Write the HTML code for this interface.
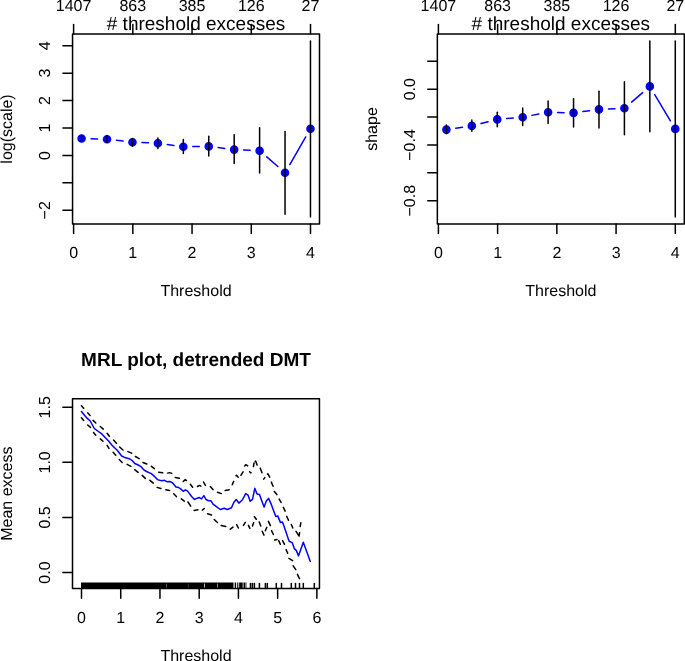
<!DOCTYPE html>
<html><head><meta charset="utf-8"><style>
html,body{margin:0;padding:0;background:#fff;}
svg{display:block;will-change:transform;}
text{font-family:"Liberation Sans",sans-serif;fill:#000;text-rendering:geometricPrecision;}
</style></head><body>
<svg width="685" height="661" viewBox="0 0 685 661">
<rect width="685" height="661" fill="#fff"/>
<rect x="72.55" y="34" width="246.95" height="190" fill="none" stroke="#000" stroke-width="1.5" stroke-linejoin="round"/>
<line x1="73.6" y1="224" x2="73.6" y2="233.6" stroke="#000" stroke-width="1.5" stroke-linecap="round" />
<text x="73.6" y="258.2" font-size="16" text-anchor="middle">0</text>
<line x1="132.82" y1="224" x2="132.82" y2="233.6" stroke="#000" stroke-width="1.5" stroke-linecap="round" />
<text x="132.82" y="258.2" font-size="16" text-anchor="middle">1</text>
<line x1="192.05" y1="224" x2="192.05" y2="233.6" stroke="#000" stroke-width="1.5" stroke-linecap="round" />
<text x="192.05" y="258.2" font-size="16" text-anchor="middle">2</text>
<line x1="251.28" y1="224" x2="251.28" y2="233.6" stroke="#000" stroke-width="1.5" stroke-linecap="round" />
<text x="251.28" y="258.2" font-size="16" text-anchor="middle">3</text>
<line x1="310.5" y1="224" x2="310.5" y2="233.6" stroke="#000" stroke-width="1.5" stroke-linecap="round" />
<text x="310.5" y="258.2" font-size="16" text-anchor="middle">4</text>
<line x1="73.6" y1="34" x2="73.6" y2="24.4" stroke="#000" stroke-width="1.5" stroke-linecap="round" />
<text x="73.6" y="11.2" font-size="16" text-anchor="middle">1407</text>
<line x1="132.82" y1="34" x2="132.82" y2="24.4" stroke="#000" stroke-width="1.5" stroke-linecap="round" />
<text x="132.82" y="11.2" font-size="16" text-anchor="middle">863</text>
<line x1="192.05" y1="34" x2="192.05" y2="24.4" stroke="#000" stroke-width="1.5" stroke-linecap="round" />
<text x="192.05" y="11.2" font-size="16" text-anchor="middle">385</text>
<line x1="251.28" y1="34" x2="251.28" y2="24.4" stroke="#000" stroke-width="1.5" stroke-linecap="round" />
<text x="251.28" y="11.2" font-size="16" text-anchor="middle">126</text>
<line x1="310.5" y1="34" x2="310.5" y2="24.4" stroke="#000" stroke-width="1.5" stroke-linecap="round" />
<text x="310.5" y="11.2" font-size="16" text-anchor="middle">27</text>
<line x1="72.55" y1="210.3" x2="62.95" y2="210.3" stroke="#000" stroke-width="1.5" stroke-linecap="round" />
<text x="49.75" y="210.3" font-size="16" text-anchor="middle" transform="rotate(-90 49.75 210.3)">&#8722;2</text>
<line x1="72.55" y1="182.87" x2="62.95" y2="182.87" stroke="#000" stroke-width="1.5" stroke-linecap="round" />
<line x1="72.55" y1="155.44" x2="62.95" y2="155.44" stroke="#000" stroke-width="1.5" stroke-linecap="round" />
<text x="49.75" y="155.44" font-size="16" text-anchor="middle" transform="rotate(-90 49.75 155.44)">0</text>
<line x1="72.55" y1="128.01" x2="62.95" y2="128.01" stroke="#000" stroke-width="1.5" stroke-linecap="round" />
<text x="49.75" y="128.01" font-size="16" text-anchor="middle" transform="rotate(-90 49.75 128.01)">1</text>
<line x1="72.55" y1="100.58" x2="62.95" y2="100.58" stroke="#000" stroke-width="1.5" stroke-linecap="round" />
<text x="49.75" y="100.58" font-size="16" text-anchor="middle" transform="rotate(-90 49.75 100.58)">2</text>
<line x1="72.55" y1="73.15" x2="62.95" y2="73.15" stroke="#000" stroke-width="1.5" stroke-linecap="round" />
<text x="49.75" y="73.15" font-size="16" text-anchor="middle" transform="rotate(-90 49.75 73.15)">3</text>
<line x1="72.55" y1="45.72" x2="62.95" y2="45.72" stroke="#000" stroke-width="1.5" stroke-linecap="round" />
<text x="49.75" y="45.72" font-size="16" text-anchor="middle" transform="rotate(-90 49.75 45.72)">4</text>
<text x="196.03" y="30.2" font-size="19.0" text-anchor="middle"># threshold excesses</text>
<text x="196.03" y="296.2" font-size="16" text-anchor="middle">Threshold</text>
<text x="11.75" y="129" font-size="16" text-anchor="middle" transform="rotate(-90 11.75 129)">log(scale)</text>
<line x1="91.07" y1="138.76" x2="97.56" y2="138.94" stroke="#0000ff" stroke-width="1.5" stroke-linecap="round" />
<line x1="116.43" y1="140.31" x2="123.06" y2="141.09" stroke="#0000ff" stroke-width="1.5" stroke-linecap="round" />
<line x1="141.92" y1="142.57" x2="148.43" y2="142.83" stroke="#0000ff" stroke-width="1.5" stroke-linecap="round" />
<line x1="167.27" y1="144.49" x2="173.94" y2="145.41" stroke="#0000ff" stroke-width="1.5" stroke-linecap="round" />
<line x1="192.79" y1="146.59" x2="199.28" y2="146.51" stroke="#0000ff" stroke-width="1.5" stroke-linecap="round" />
<line x1="218.15" y1="147.58" x2="224.78" y2="148.42" stroke="#0000ff" stroke-width="1.5" stroke-linecap="round" />
<line x1="243.64" y1="150.01" x2="250.15" y2="150.29" stroke="#0000ff" stroke-width="1.5" stroke-linecap="round" />
<line x1="266.77" y1="156.9" x2="277.88" y2="166.5" stroke="#0000ff" stroke-width="1.5" stroke-linecap="round" />
<line x1="289.79" y1="164.51" x2="305.72" y2="136.99" stroke="#0000ff" stroke-width="1.5" stroke-linecap="round" />
<circle cx="81.6" cy="138.5" r="3.55" fill="#0000ff" stroke="#0000ff" stroke-width="1.5"/>
<circle cx="107.03" cy="139.2" r="3.55" fill="#0000ff" stroke="#0000ff" stroke-width="1.5"/>
<circle cx="132.46" cy="142.2" r="3.55" fill="#0000ff" stroke="#0000ff" stroke-width="1.5"/>
<circle cx="157.89" cy="143.2" r="3.55" fill="#0000ff" stroke="#0000ff" stroke-width="1.5"/>
<circle cx="183.32" cy="146.7" r="3.55" fill="#0000ff" stroke="#0000ff" stroke-width="1.5"/>
<circle cx="208.75" cy="146.4" r="3.55" fill="#0000ff" stroke="#0000ff" stroke-width="1.5"/>
<circle cx="234.18" cy="149.6" r="3.55" fill="#0000ff" stroke="#0000ff" stroke-width="1.5"/>
<circle cx="259.61" cy="150.7" r="3.55" fill="#0000ff" stroke="#0000ff" stroke-width="1.5"/>
<circle cx="285.04" cy="172.7" r="3.55" fill="#0000ff" stroke="#0000ff" stroke-width="1.5"/>
<circle cx="310.47" cy="128.8" r="3.55" fill="#0000ff" stroke="#0000ff" stroke-width="1.5"/>
<line x1="81.6" y1="135.8" x2="81.6" y2="140.8" stroke="#000" stroke-width="1.5" stroke-linecap="round" />
<line x1="107.03" y1="135.5" x2="107.03" y2="142.5" stroke="#000" stroke-width="1.5" stroke-linecap="round" />
<line x1="132.46" y1="138.4" x2="132.46" y2="146.2" stroke="#000" stroke-width="1.5" stroke-linecap="round" />
<line x1="157.89" y1="138.1" x2="157.89" y2="148.4" stroke="#000" stroke-width="1.5" stroke-linecap="round" />
<line x1="183.32" y1="139.4" x2="183.32" y2="153.6" stroke="#000" stroke-width="1.5" stroke-linecap="round" />
<line x1="208.75" y1="136.2" x2="208.75" y2="156.1" stroke="#000" stroke-width="1.5" stroke-linecap="round" />
<line x1="234.18" y1="134.7" x2="234.18" y2="163.6" stroke="#000" stroke-width="1.5" stroke-linecap="round" />
<line x1="259.61" y1="127.8" x2="259.61" y2="173" stroke="#000" stroke-width="1.5" stroke-linecap="round" />
<line x1="285.04" y1="131.4" x2="285.04" y2="214.2" stroke="#000" stroke-width="1.5" stroke-linecap="round" />
<line x1="310.47" y1="40.9" x2="310.47" y2="217" stroke="#000" stroke-width="1.5" stroke-linecap="round" />
<rect x="437.35" y="34" width="246.95" height="190" fill="none" stroke="#000" stroke-width="1.5" stroke-linejoin="round"/>
<line x1="438.4" y1="224" x2="438.4" y2="233.6" stroke="#000" stroke-width="1.5" stroke-linecap="round" />
<text x="438.4" y="258.2" font-size="16" text-anchor="middle">0</text>
<line x1="497.62" y1="224" x2="497.62" y2="233.6" stroke="#000" stroke-width="1.5" stroke-linecap="round" />
<text x="497.62" y="258.2" font-size="16" text-anchor="middle">1</text>
<line x1="556.85" y1="224" x2="556.85" y2="233.6" stroke="#000" stroke-width="1.5" stroke-linecap="round" />
<text x="556.85" y="258.2" font-size="16" text-anchor="middle">2</text>
<line x1="616.08" y1="224" x2="616.08" y2="233.6" stroke="#000" stroke-width="1.5" stroke-linecap="round" />
<text x="616.08" y="258.2" font-size="16" text-anchor="middle">3</text>
<line x1="675.3" y1="224" x2="675.3" y2="233.6" stroke="#000" stroke-width="1.5" stroke-linecap="round" />
<text x="675.3" y="258.2" font-size="16" text-anchor="middle">4</text>
<line x1="438.4" y1="34" x2="438.4" y2="24.4" stroke="#000" stroke-width="1.5" stroke-linecap="round" />
<text x="438.4" y="11.2" font-size="16" text-anchor="middle">1407</text>
<line x1="497.62" y1="34" x2="497.62" y2="24.4" stroke="#000" stroke-width="1.5" stroke-linecap="round" />
<text x="497.62" y="11.2" font-size="16" text-anchor="middle">863</text>
<line x1="556.85" y1="34" x2="556.85" y2="24.4" stroke="#000" stroke-width="1.5" stroke-linecap="round" />
<text x="556.85" y="11.2" font-size="16" text-anchor="middle">385</text>
<line x1="616.08" y1="34" x2="616.08" y2="24.4" stroke="#000" stroke-width="1.5" stroke-linecap="round" />
<text x="616.08" y="11.2" font-size="16" text-anchor="middle">126</text>
<line x1="675.3" y1="34" x2="675.3" y2="24.4" stroke="#000" stroke-width="1.5" stroke-linecap="round" />
<text x="675.3" y="11.2" font-size="16" text-anchor="middle">27</text>
<line x1="437.35" y1="200.7" x2="427.75" y2="200.7" stroke="#000" stroke-width="1.5" stroke-linecap="round" />
<text x="414.55" y="200.7" font-size="16" text-anchor="middle" transform="rotate(-90 414.55 200.7)">&#8722;0.8</text>
<line x1="437.35" y1="172.82" x2="427.75" y2="172.82" stroke="#000" stroke-width="1.5" stroke-linecap="round" />
<line x1="437.35" y1="144.94" x2="427.75" y2="144.94" stroke="#000" stroke-width="1.5" stroke-linecap="round" />
<text x="414.55" y="144.94" font-size="16" text-anchor="middle" transform="rotate(-90 414.55 144.94)">&#8722;0.4</text>
<line x1="437.35" y1="117.06" x2="427.75" y2="117.06" stroke="#000" stroke-width="1.5" stroke-linecap="round" />
<line x1="437.35" y1="89.18" x2="427.75" y2="89.18" stroke="#000" stroke-width="1.5" stroke-linecap="round" />
<text x="414.55" y="89.18" font-size="16" text-anchor="middle" transform="rotate(-90 414.55 89.18)">0.0</text>
<line x1="437.35" y1="61.3" x2="427.75" y2="61.3" stroke="#000" stroke-width="1.5" stroke-linecap="round" />
<text x="560.83" y="30.2" font-size="19.0" text-anchor="middle"># threshold excesses</text>
<text x="560.83" y="296.2" font-size="16" text-anchor="middle">Threshold</text>
<text x="376.55" y="129" font-size="16" text-anchor="middle" transform="rotate(-90 376.55 129)">shape</text>
<line x1="455.77" y1="128.24" x2="462.46" y2="127.26" stroke="#0000ff" stroke-width="1.5" stroke-linecap="round" />
<line x1="481.01" y1="123.55" x2="488.08" y2="121.75" stroke="#0000ff" stroke-width="1.5" stroke-linecap="round" />
<line x1="506.69" y1="118.58" x2="513.26" y2="118.02" stroke="#0000ff" stroke-width="1.5" stroke-linecap="round" />
<line x1="531.98" y1="115.37" x2="538.83" y2="114.03" stroke="#0000ff" stroke-width="1.5" stroke-linecap="round" />
<line x1="557.59" y1="112.46" x2="564.08" y2="112.64" stroke="#0000ff" stroke-width="1.5" stroke-linecap="round" />
<line x1="582.93" y1="111.61" x2="589.6" y2="110.69" stroke="#0000ff" stroke-width="1.5" stroke-linecap="round" />
<line x1="608.44" y1="108.99" x2="614.95" y2="108.71" stroke="#0000ff" stroke-width="1.5" stroke-linecap="round" />
<line x1="631.59" y1="102.12" x2="642.66" y2="92.58" stroke="#0000ff" stroke-width="1.5" stroke-linecap="round" />
<line x1="654.7" y1="94.53" x2="670.41" y2="120.77" stroke="#0000ff" stroke-width="1.5" stroke-linecap="round" />
<circle cx="446.4" cy="129.6" r="3.55" fill="#0000ff" stroke="#0000ff" stroke-width="1.5"/>
<circle cx="471.83" cy="125.9" r="3.55" fill="#0000ff" stroke="#0000ff" stroke-width="1.5"/>
<circle cx="497.26" cy="119.4" r="3.55" fill="#0000ff" stroke="#0000ff" stroke-width="1.5"/>
<circle cx="522.69" cy="117.2" r="3.55" fill="#0000ff" stroke="#0000ff" stroke-width="1.5"/>
<circle cx="548.12" cy="112.2" r="3.55" fill="#0000ff" stroke="#0000ff" stroke-width="1.5"/>
<circle cx="573.55" cy="112.9" r="3.55" fill="#0000ff" stroke="#0000ff" stroke-width="1.5"/>
<circle cx="598.98" cy="109.4" r="3.55" fill="#0000ff" stroke="#0000ff" stroke-width="1.5"/>
<circle cx="624.41" cy="108.3" r="3.55" fill="#0000ff" stroke="#0000ff" stroke-width="1.5"/>
<circle cx="649.84" cy="86.4" r="3.55" fill="#0000ff" stroke="#0000ff" stroke-width="1.5"/>
<circle cx="675.27" cy="128.9" r="3.55" fill="#0000ff" stroke="#0000ff" stroke-width="1.5"/>
<line x1="446.4" y1="125" x2="446.4" y2="133.8" stroke="#000" stroke-width="1.5" stroke-linecap="round" />
<line x1="471.83" y1="120.1" x2="471.83" y2="131.2" stroke="#000" stroke-width="1.5" stroke-linecap="round" />
<line x1="497.26" y1="112.2" x2="497.26" y2="126.8" stroke="#000" stroke-width="1.5" stroke-linecap="round" />
<line x1="522.69" y1="108" x2="522.69" y2="125.6" stroke="#000" stroke-width="1.5" stroke-linecap="round" />
<line x1="548.12" y1="101" x2="548.12" y2="123.6" stroke="#000" stroke-width="1.5" stroke-linecap="round" />
<line x1="573.55" y1="98.8" x2="573.55" y2="126.9" stroke="#000" stroke-width="1.5" stroke-linecap="round" />
<line x1="598.98" y1="91.2" x2="598.98" y2="128" stroke="#000" stroke-width="1.5" stroke-linecap="round" />
<line x1="624.41" y1="81.7" x2="624.41" y2="134.8" stroke="#000" stroke-width="1.5" stroke-linecap="round" />
<line x1="649.84" y1="40.9" x2="649.84" y2="131.7" stroke="#000" stroke-width="1.5" stroke-linecap="round" />
<line x1="675.27" y1="40.9" x2="675.27" y2="217" stroke="#000" stroke-width="1.5" stroke-linecap="round" />
<rect x="81" y="582.5" width="152" height="6.1" fill="#000"/>
<rect x="166" y="583.6" width="1" height="4.2" fill="#555"/>
<rect x="188" y="583.6" width="1" height="4.2" fill="#333"/>
<rect x="204" y="583.6" width="1" height="4.2" fill="#bbb"/>
<rect x="217" y="583.6" width="1" height="4.2" fill="#888"/>
<rect x="233" y="582.5" width="1" height="6.1" fill="#808080"/>
<rect x="234" y="582.5" width="1" height="6.1" fill="#b3b3b3"/>
<rect x="235" y="582.5" width="1" height="6.1" fill="#000"/>
<rect x="236" y="582.5" width="1" height="6.1" fill="#e6e6e6"/>
<rect x="237" y="582.5" width="1" height="6.1" fill="#333"/>
<rect x="238" y="582.5" width="1" height="6.1" fill="#b3b3b3"/>
<rect x="239" y="582.5" width="1" height="6.1" fill="#262626"/>
<rect x="240" y="582.5" width="1" height="6.1" fill="#000"/>
<rect x="241" y="582.5" width="1" height="6.1" fill="#000"/>
<rect x="242" y="582.5" width="1" height="6.1" fill="#4d4d4d"/>
<rect x="243" y="582.5" width="1" height="6.1" fill="#808080"/>
<rect x="244" y="582.5" width="1" height="6.1" fill="#000"/>
<rect x="245" y="582.5" width="1" height="6.1" fill="#808080"/>
<rect x="246" y="582.5" width="1" height="6.1" fill="#999"/>
<line x1="250.5" y1="583.4" x2="250.5" y2="588" stroke="#000" stroke-width="1.5" stroke-linecap="round" />
<line x1="252.4" y1="583.4" x2="252.4" y2="588" stroke="#000" stroke-width="1.5" stroke-linecap="round" />
<line x1="254.4" y1="583.4" x2="254.4" y2="588" stroke="#000" stroke-width="1.5" stroke-linecap="round" />
<line x1="259.4" y1="583.4" x2="259.4" y2="588" stroke="#000" stroke-width="1.5" stroke-linecap="round" />
<line x1="265.4" y1="583.4" x2="265.4" y2="588" stroke="#000" stroke-width="1.5" stroke-linecap="round" />
<line x1="267.3" y1="583.4" x2="267.3" y2="588" stroke="#000" stroke-width="1.5" stroke-linecap="round" />
<line x1="276.3" y1="583.4" x2="276.3" y2="588" stroke="#000" stroke-width="1.5" stroke-linecap="round" />
<line x1="281.5" y1="583.4" x2="281.5" y2="588" stroke="#000" stroke-width="1.5" stroke-linecap="round" />
<line x1="291.3" y1="583.4" x2="291.3" y2="588" stroke="#000" stroke-width="1.5" stroke-linecap="round" />
<line x1="295.5" y1="583.4" x2="295.5" y2="588" stroke="#000" stroke-width="1.5" stroke-linecap="round" />
<line x1="299.5" y1="583.4" x2="299.5" y2="588" stroke="#000" stroke-width="1.5" stroke-linecap="round" />
<line x1="303.3" y1="583.4" x2="303.3" y2="588" stroke="#000" stroke-width="1.5" stroke-linecap="round" />
<line x1="314.3" y1="583.4" x2="314.3" y2="588" stroke="#000" stroke-width="1.5" stroke-linecap="round" />
<rect x="72.5" y="398.75" width="246.95" height="189.85" fill="none" stroke="#000" stroke-width="1.5" stroke-linejoin="round"/>
<line x1="81.5" y1="588.6" x2="81.5" y2="598.2" stroke="#000" stroke-width="1.5" stroke-linecap="round" />
<text x="81.5" y="622.8" font-size="16" text-anchor="middle">0</text>
<line x1="120.73" y1="588.6" x2="120.73" y2="598.2" stroke="#000" stroke-width="1.5" stroke-linecap="round" />
<text x="120.73" y="622.8" font-size="16" text-anchor="middle">1</text>
<line x1="159.96" y1="588.6" x2="159.96" y2="598.2" stroke="#000" stroke-width="1.5" stroke-linecap="round" />
<text x="159.96" y="622.8" font-size="16" text-anchor="middle">2</text>
<line x1="199.19" y1="588.6" x2="199.19" y2="598.2" stroke="#000" stroke-width="1.5" stroke-linecap="round" />
<text x="199.19" y="622.8" font-size="16" text-anchor="middle">3</text>
<line x1="238.42" y1="588.6" x2="238.42" y2="598.2" stroke="#000" stroke-width="1.5" stroke-linecap="round" />
<text x="238.42" y="622.8" font-size="16" text-anchor="middle">4</text>
<line x1="277.65" y1="588.6" x2="277.65" y2="598.2" stroke="#000" stroke-width="1.5" stroke-linecap="round" />
<text x="277.65" y="622.8" font-size="16" text-anchor="middle">5</text>
<line x1="316.88" y1="588.6" x2="316.88" y2="598.2" stroke="#000" stroke-width="1.5" stroke-linecap="round" />
<text x="316.88" y="622.8" font-size="16" text-anchor="middle">6</text>
<line x1="72.5" y1="572.5" x2="62.9" y2="572.5" stroke="#000" stroke-width="1.5" stroke-linecap="round" />
<text x="49.7" y="572.5" font-size="16" text-anchor="middle" transform="rotate(-90 49.7 572.5)">0.0</text>
<line x1="72.5" y1="517.43" x2="62.9" y2="517.43" stroke="#000" stroke-width="1.5" stroke-linecap="round" />
<text x="49.7" y="517.43" font-size="16" text-anchor="middle" transform="rotate(-90 49.7 517.43)">0.5</text>
<line x1="72.5" y1="462.36" x2="62.9" y2="462.36" stroke="#000" stroke-width="1.5" stroke-linecap="round" />
<text x="49.7" y="462.36" font-size="16" text-anchor="middle" transform="rotate(-90 49.7 462.36)">1.0</text>
<line x1="72.5" y1="407.29" x2="62.9" y2="407.29" stroke="#000" stroke-width="1.5" stroke-linecap="round" />
<text x="49.7" y="407.29" font-size="16" text-anchor="middle" transform="rotate(-90 49.7 407.29)">1.5</text>
<text x="195.97" y="366.1" font-size="19.0" text-anchor="middle" font-weight="bold">MRL plot, detrended DMT</text>
<text x="195.97" y="660.8" font-size="16" text-anchor="middle">Threshold</text>
<text x="11.7" y="493.68" font-size="16" text-anchor="middle" transform="rotate(-90 11.7 493.68)">Mean excess</text>
<polyline points="81.4,405.7 83.7,408.3" fill="none" stroke="#000" stroke-width="1.5" stroke-linecap="round" stroke-linejoin="round"/>
<polyline points="87.8,412.9 90.1,415.5" fill="none" stroke="#000" stroke-width="1.5" stroke-linecap="round" stroke-linejoin="round"/>
<polyline points="93.1,420.4 95.8,423" fill="none" stroke="#000" stroke-width="1.5" stroke-linecap="round" stroke-linejoin="round"/>
<polyline points="100.3,426.5 103.3,429.1" fill="none" stroke="#000" stroke-width="1.5" stroke-linecap="round" stroke-linejoin="round"/>
<polyline points="107.1,433.3 109.4,436.3" fill="none" stroke="#000" stroke-width="1.5" stroke-linecap="round" stroke-linejoin="round"/>
<polyline points="113.5,440 116.4,443.2" fill="none" stroke="#000" stroke-width="1.5" stroke-linecap="round" stroke-linejoin="round"/>
<polyline points="119.6,447 123,450" fill="none" stroke="#000" stroke-width="1.5" stroke-linecap="round" stroke-linejoin="round"/>
<polyline points="127.9,451.6 131.7,453.1" fill="none" stroke="#000" stroke-width="1.5" stroke-linecap="round" stroke-linejoin="round"/>
<polyline points="135.4,456.5 139.2,458.7" fill="none" stroke="#000" stroke-width="1.5" stroke-linecap="round" stroke-linejoin="round"/>
<polyline points="143,462.5 146.8,464" fill="none" stroke="#000" stroke-width="1.5" stroke-linecap="round" stroke-linejoin="round"/>
<polyline points="151.4,466.3 154.4,468.6" fill="none" stroke="#000" stroke-width="1.5" stroke-linecap="round" stroke-linejoin="round"/>
<polyline points="158.6,472.2 162.7,472.8" fill="none" stroke="#000" stroke-width="1.5" stroke-linecap="round" stroke-linejoin="round"/>
<polyline points="167.7,473.1 169.5,472.6 171.8,473.4" fill="none" stroke="#000" stroke-width="1.5" stroke-linecap="round" stroke-linejoin="round"/>
<polyline points="175.2,477.5 179.4,478.3" fill="none" stroke="#000" stroke-width="1.5" stroke-linecap="round" stroke-linejoin="round"/>
<polyline points="183.2,481.5 185.3,479.6 186.5,480.5" fill="none" stroke="#000" stroke-width="1.5" stroke-linecap="round" stroke-linejoin="round"/>
<polyline points="190.3,484.3 192.6,487.3" fill="none" stroke="#000" stroke-width="1.5" stroke-linecap="round" stroke-linejoin="round"/>
<polyline points="197.5,486.5 199.4,485.4 200.9,486.2" fill="none" stroke="#000" stroke-width="1.5" stroke-linecap="round" stroke-linejoin="round"/>
<polyline points="203.5,482 205.4,485.4" fill="none" stroke="#000" stroke-width="1.5" stroke-linecap="round" stroke-linejoin="round"/>
<polyline points="210.3,486.6 213,489.6" fill="none" stroke="#000" stroke-width="1.5" stroke-linecap="round" stroke-linejoin="round"/>
<polyline points="217.5,492.2 221.3,493.6" fill="none" stroke="#000" stroke-width="1.5" stroke-linecap="round" stroke-linejoin="round"/>
<polyline points="225.2,490.5 229.2,489.7" fill="none" stroke="#000" stroke-width="1.5" stroke-linecap="round" stroke-linejoin="round"/>
<polyline points="232.2,484.8 233.7,481.4" fill="none" stroke="#000" stroke-width="1.5" stroke-linecap="round" stroke-linejoin="round"/>
<polyline points="236,475.7 236.4,475.3 238.2,477.2" fill="none" stroke="#000" stroke-width="1.5" stroke-linecap="round" stroke-linejoin="round"/>
<polyline points="240.9,475.3 243.1,471.9" fill="none" stroke="#000" stroke-width="1.5" stroke-linecap="round" stroke-linejoin="round"/>
<polyline points="244.7,465.9 245.8,464.7 247.7,465.9" fill="none" stroke="#000" stroke-width="1.5" stroke-linecap="round" stroke-linejoin="round"/>
<polyline points="249.6,471.6 250.3,472.7 251.1,472.7" fill="none" stroke="#000" stroke-width="1.5" stroke-linecap="round" stroke-linejoin="round"/>
<polyline points="253.4,466.6 254.1,462.9" fill="none" stroke="#000" stroke-width="1.5" stroke-linecap="round" stroke-linejoin="round"/>
<polyline points="255.2,461.5 255.6,461 257.1,465.1" fill="none" stroke="#000" stroke-width="1.5" stroke-linecap="round" stroke-linejoin="round"/>
<polyline points="260.2,468.1 262,472.7" fill="none" stroke="#000" stroke-width="1.5" stroke-linecap="round" stroke-linejoin="round"/>
<polyline points="263.7,479.1 264.8,477.6" fill="none" stroke="#000" stroke-width="1.5" stroke-linecap="round" stroke-linejoin="round"/>
<polyline points="267.5,474.2 267.9,473.8 269.7,477.2" fill="none" stroke="#000" stroke-width="1.5" stroke-linecap="round" stroke-linejoin="round"/>
<polyline points="271.3,482.1 273.1,486.3" fill="none" stroke="#000" stroke-width="1.5" stroke-linecap="round" stroke-linejoin="round"/>
<polyline points="274.3,491.5 276.9,494.6" fill="none" stroke="#000" stroke-width="1.5" stroke-linecap="round" stroke-linejoin="round"/>
<polyline points="279.2,499.1 281.1,502.5" fill="none" stroke="#000" stroke-width="1.5" stroke-linecap="round" stroke-linejoin="round"/>
<polyline points="283.4,507.4 285.1,511.1" fill="none" stroke="#000" stroke-width="1.5" stroke-linecap="round" stroke-linejoin="round"/>
<polyline points="286.7,516.3 288.5,520.2" fill="none" stroke="#000" stroke-width="1.5" stroke-linecap="round" stroke-linejoin="round"/>
<polyline points="291.3,524.5 292.8,528" fill="none" stroke="#000" stroke-width="1.5" stroke-linecap="round" stroke-linejoin="round"/>
<polyline points="296,531.3 299.1,536.2 299.6,532.4" fill="none" stroke="#000" stroke-width="1.5" stroke-linecap="round" stroke-linejoin="round"/>
<polyline points="300.2,526.5 300.8,522.8" fill="none" stroke="#000" stroke-width="1.5" stroke-linecap="round" stroke-linejoin="round"/>
<polyline points="81.4,417.8 83.7,420.4" fill="none" stroke="#000" stroke-width="1.5" stroke-linecap="round" stroke-linejoin="round"/>
<polyline points="87.7,425 90.5,427.4" fill="none" stroke="#000" stroke-width="1.5" stroke-linecap="round" stroke-linejoin="round"/>
<polyline points="93.5,432.5 95.8,435.2" fill="none" stroke="#000" stroke-width="1.5" stroke-linecap="round" stroke-linejoin="round"/>
<polyline points="100.3,438.9 103,441.2" fill="none" stroke="#000" stroke-width="1.5" stroke-linecap="round" stroke-linejoin="round"/>
<polyline points="107.1,445.4 109,448.4" fill="none" stroke="#000" stroke-width="1.5" stroke-linecap="round" stroke-linejoin="round"/>
<polyline points="113.1,452.3 115.8,455.3" fill="none" stroke="#000" stroke-width="1.5" stroke-linecap="round" stroke-linejoin="round"/>
<polyline points="119.2,459.5 122.2,462.5" fill="none" stroke="#000" stroke-width="1.5" stroke-linecap="round" stroke-linejoin="round"/>
<polyline points="127.1,464.4 130.9,466.3" fill="none" stroke="#000" stroke-width="1.5" stroke-linecap="round" stroke-linejoin="round"/>
<polyline points="134.7,469.7 138.1,472.3" fill="none" stroke="#000" stroke-width="1.5" stroke-linecap="round" stroke-linejoin="round"/>
<polyline points="142.2,475.4 145.3,478.4" fill="none" stroke="#000" stroke-width="1.5" stroke-linecap="round" stroke-linejoin="round"/>
<polyline points="149.9,480.3 153.3,483.1" fill="none" stroke="#000" stroke-width="1.5" stroke-linecap="round" stroke-linejoin="round"/>
<polyline points="157.1,487.4 160.9,488.5" fill="none" stroke="#000" stroke-width="1.5" stroke-linecap="round" stroke-linejoin="round"/>
<polyline points="165.8,489.8 169.6,490.4" fill="none" stroke="#000" stroke-width="1.5" stroke-linecap="round" stroke-linejoin="round"/>
<polyline points="173.7,493.7 176.4,496.6" fill="none" stroke="#000" stroke-width="1.5" stroke-linecap="round" stroke-linejoin="round"/>
<polyline points="181.3,498.9 184.3,501.1" fill="none" stroke="#000" stroke-width="1.5" stroke-linecap="round" stroke-linejoin="round"/>
<polyline points="188,502 190.7,506.2" fill="none" stroke="#000" stroke-width="1.5" stroke-linecap="round" stroke-linejoin="round"/>
<polyline points="194.1,510.4 197.9,509.8" fill="none" stroke="#000" stroke-width="1.5" stroke-linecap="round" stroke-linejoin="round"/>
<polyline points="202.4,510.1 204.2,508.6" fill="none" stroke="#000" stroke-width="1.5" stroke-linecap="round" stroke-linejoin="round"/>
<polyline points="207.6,513.8 211.5,515" fill="none" stroke="#000" stroke-width="1.5" stroke-linecap="round" stroke-linejoin="round"/>
<polyline points="214.2,519.5 217.5,522.5" fill="none" stroke="#000" stroke-width="1.5" stroke-linecap="round" stroke-linejoin="round"/>
<polyline points="221.2,525.6 225.7,526.5" fill="none" stroke="#000" stroke-width="1.5" stroke-linecap="round" stroke-linejoin="round"/>
<polyline points="230.3,529.2 233,527.1" fill="none" stroke="#000" stroke-width="1.5" stroke-linecap="round" stroke-linejoin="round"/>
<polyline points="236.6,524.7 238.4,528" fill="none" stroke="#000" stroke-width="1.5" stroke-linecap="round" stroke-linejoin="round"/>
<polyline points="243.4,525.4 245.3,522.3" fill="none" stroke="#000" stroke-width="1.5" stroke-linecap="round" stroke-linejoin="round"/>
<polyline points="248.4,525.4 249.9,528.4" fill="none" stroke="#000" stroke-width="1.5" stroke-linecap="round" stroke-linejoin="round"/>
<polyline points="252.5,526.1 253.6,522.7" fill="none" stroke="#000" stroke-width="1.5" stroke-linecap="round" stroke-linejoin="round"/>
<polyline points="254.4,516.7 256.3,519.3" fill="none" stroke="#000" stroke-width="1.5" stroke-linecap="round" stroke-linejoin="round"/>
<polyline points="259.2,521.9 260.8,526.1" fill="none" stroke="#000" stroke-width="1.5" stroke-linecap="round" stroke-linejoin="round"/>
<polyline points="262.2,531.3 264,535.1" fill="none" stroke="#000" stroke-width="1.5" stroke-linecap="round" stroke-linejoin="round"/>
<polyline points="265.3,530.8 266.8,527.4" fill="none" stroke="#000" stroke-width="1.5" stroke-linecap="round" stroke-linejoin="round"/>
<polyline points="268.4,521.4 270.4,525.6" fill="none" stroke="#000" stroke-width="1.5" stroke-linecap="round" stroke-linejoin="round"/>
<polyline points="271.5,530.6 273.4,534.5" fill="none" stroke="#000" stroke-width="1.5" stroke-linecap="round" stroke-linejoin="round"/>
<polyline points="274.7,540.1 277.1,539.6" fill="none" stroke="#000" stroke-width="1.5" stroke-linecap="round" stroke-linejoin="round"/>
<polyline points="278.7,540.6 280.3,544.3" fill="none" stroke="#000" stroke-width="1.5" stroke-linecap="round" stroke-linejoin="round"/>
<polyline points="282.6,540.6 284.5,544.3" fill="none" stroke="#000" stroke-width="1.5" stroke-linecap="round" stroke-linejoin="round"/>
<polyline points="286.1,549.6 287.7,553.3" fill="none" stroke="#000" stroke-width="1.5" stroke-linecap="round" stroke-linejoin="round"/>
<polyline points="288.9,558.4 292.6,560.6" fill="none" stroke="#000" stroke-width="1.5" stroke-linecap="round" stroke-linejoin="round"/>
<polyline points="293.1,565.8 295.8,569.6" fill="none" stroke="#000" stroke-width="1.5" stroke-linecap="round" stroke-linejoin="round"/>
<polyline points="297.4,574.3 299.5,578.6" fill="none" stroke="#000" stroke-width="1.5" stroke-linecap="round" stroke-linejoin="round"/>
<polyline points="81.4,411.5 86.8,417.9 90.2,421 94.3,428.5 97,430.5 101.8,433.9 105.9,438.3 108.6,441.1 112,445.2 117.2,450.3 121.7,456 124.1,457.2 129.9,459 132.6,460.9 134.8,463.5 138.2,465 140.9,466.6 143.5,469.6 146.5,471.5 151.3,473.6 155,476.9 157.5,479.6 161.6,480.7 164.6,480.3 167.3,481.8 169.9,481.5 172.2,482.6 176,487.1 178.6,487.5 181.3,489.4 183.2,491.3 185.4,489.8 187.6,491.1 191.8,496.8 194.5,499.4 199,497.5 201.5,498.9 203.9,495.6 206,499.5 208.5,500.7 210.9,500.7 213,504.1 215.1,505.6 220.3,509.5 224.2,508.3 227.2,509.5 231.5,507.7 233.9,502.3 236.3,499.5 238.8,503.1 242.3,500 245.7,493.6 248,495.1 250.2,501.2 252.5,499.3 254.8,488.3 257,494 259.5,494.6 261.8,501 264.1,507 266.3,501 268.6,498.4 271.3,504.4 273.5,510.5 275.8,516.6 277.8,516.1 280.4,522.4 282.5,521.9 284.8,528.4 289.1,541.2 292.2,542.6 294.3,548.6 296.4,550.6 298.5,555.9 303.3,542.2 310.3,561.4" fill="none" stroke="#0000ff" stroke-width="1.5" stroke-linecap="round" stroke-linejoin="round"/>
</svg>
</body></html>
